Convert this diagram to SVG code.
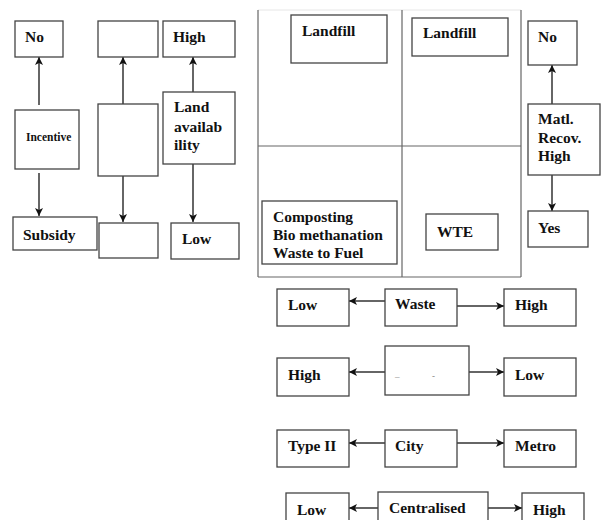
<svg xmlns="http://www.w3.org/2000/svg" width="601" height="520" viewBox="0 0 601 520">
  <defs>
    <marker id="ah" viewBox="0 0 10 10" refX="10" refY="5" markerWidth="8" markerHeight="8" markerUnits="userSpaceOnUse" orient="auto">
      <path d="M0,0 L10,5 L0,10 L2.5,5 Z" fill="#111"/>
    </marker>
  </defs>
  <style>
    rect { fill: #fff; stroke: #444; stroke-width: 1.3; }
    text { font-family: "Liberation Serif", "Times New Roman", serif; font-weight: bold; font-size: 15.5px; fill: #111; }
    .small { font-size: 11.5px; }
    .dash { font-size: 9px; font-weight: normal; fill: #777; }
    .frame { stroke: #666; stroke-width: 1.2; fill: none; }
    .faint { stroke: #e6e6e6; stroke-width: 1; fill: none; }
    .conn line { stroke: #333; stroke-width: 1.5; marker-end: url(#ah); }
  </style>
  <rect width="601" height="520" style="fill:#fff;stroke:none"/>

  <!-- quadrant frame -->
  <g id="quadrant">
    <line class="faint" x1="258" y1="10" x2="521" y2="10"/>
    <line class="frame" x1="258" y1="10" x2="258" y2="277"/>
    <line class="frame" x1="402" y1="10" x2="402" y2="277"/>
    <line class="frame" x1="521" y1="10" x2="521" y2="277"/>
    <line class="frame" x1="258" y1="146" x2="521" y2="146"/>
    <line class="frame" x1="258" y1="277" x2="521" y2="277"/>
  </g>

  <!-- connectors -->
  <g class="conn" id="connectors">
    <line x1="39" y1="105" x2="39" y2="57"/>
    <line x1="39" y1="173" x2="39" y2="216"/>
    <line x1="123" y1="104" x2="123" y2="57"/>
    <line x1="123" y1="176" x2="123" y2="222"/>
    <line x1="193" y1="92" x2="193" y2="57"/>
    <line x1="193" y1="164" x2="193" y2="222"/>
    <line x1="552" y1="104" x2="552" y2="65"/>
    <line x1="552" y1="175" x2="552" y2="211"/>
    <line x1="385" y1="301" x2="349" y2="301"/>
    <line x1="457" y1="306" x2="504" y2="306"/>
    <line x1="385" y1="372" x2="349" y2="372"/>
    <line x1="469" y1="372" x2="504" y2="372"/>
    <line x1="385" y1="443" x2="349" y2="443"/>
    <line x1="457" y1="443" x2="504" y2="443"/>
    <line x1="378" y1="508" x2="349" y2="508"/>
    <line x1="488" y1="508" x2="522" y2="508"/>
  </g>

  <!-- left column: incentive -->
  <g id="no-left"><rect x="15" y="21" width="48" height="36"/><text x="25" y="42">No</text></g>
  <g id="incentive"><rect x="15" y="110" width="64" height="59"/><text class="small" x="26" y="141">Incentive</text></g>
  <g id="subsidy"><rect x="13" y="217" width="84" height="33"/><text x="23" y="240">Subsidy</text></g>

  <!-- middle column: unlabelled -->
  <g id="blank-top"><rect x="98" y="21" width="60" height="36"/></g>
  <g id="blank-mid"><rect x="98" y="104" width="60" height="72"/></g>
  <g id="blank-bottom"><rect x="99" y="223" width="59" height="35"/></g>

  <!-- land availability -->
  <g id="high-land"><rect x="163" y="21" width="72" height="36"/><text x="173" y="42">High</text></g>
  <g id="land"><rect x="163" y="92" width="72" height="72"/>
    <text x="174" y="112">Land</text><text x="174" y="132">availab</text><text x="174" y="150">ility</text></g>
  <g id="low-land"><rect x="171" y="223" width="68" height="36"/><text x="182" y="244">Low</text></g>

  <!-- quadrant contents -->
  <g id="landfill-1"><rect x="291" y="15" width="96" height="48"/><text x="302" y="36">Landfill</text></g>
  <g id="landfill-2"><rect x="412" y="18" width="96" height="38"/><text x="423" y="38">Landfill</text></g>
  <g id="composting"><rect x="262" y="201" width="135" height="63"/>
    <text x="273" y="222">Composting</text><text x="273" y="240">Bio methanation</text><text x="273" y="258">Waste to Fuel</text></g>
  <g id="wte"><rect x="426" y="214" width="72" height="36"/><text x="437" y="237">WTE</text></g>

  <!-- material recovery -->
  <g id="no-right"><rect x="528" y="21" width="49" height="44"/><text x="538" y="42">No</text></g>
  <g id="matl"><rect x="528" y="104" width="72" height="71"/>
    <text x="538" y="124">Matl.</text><text x="538" y="143">Recov.</text><text x="538" y="161">High</text></g>
  <g id="yes"><rect x="528" y="211" width="60" height="36"/><text x="538" y="233">Yes</text></g>

  <!-- waste row -->
  <g id="waste-low"><rect x="277" y="289" width="72" height="37"/><text x="288" y="310">Low</text></g>
  <g id="waste"><rect x="385" y="289" width="72" height="37"/><text x="395" y="309">Waste</text></g>
  <g id="waste-high"><rect x="504" y="289" width="72" height="37"/><text x="515" y="310">High</text></g>

  <!-- second row -->
  <g id="row2-high"><rect x="277" y="358" width="72" height="38"/><text x="288" y="380">High</text></g>
  <g id="row2-mid"><rect x="385" y="346" width="84" height="49"/>
    <text class="dash" x="395" y="379">–</text><text class="dash" x="432" y="379">-</text></g>
  <g id="row2-low"><rect x="504" y="358" width="72" height="38"/><text x="515" y="380">Low</text></g>

  <!-- city row -->
  <g id="type2"><rect x="277" y="430" width="72" height="37"/><text x="288" y="451">Type II</text></g>
  <g id="city"><rect x="385" y="430" width="72" height="37"/><text x="395" y="451">City</text></g>
  <g id="metro"><rect x="504" y="430" width="72" height="37"/><text x="515" y="451">Metro</text></g>

  <!-- centralised row -->
  <g id="cent-low"><rect x="286" y="493" width="63" height="40"/><text x="297" y="515">Low</text></g>
  <g id="centralised"><rect x="378" y="492" width="110" height="40"/><text x="389" y="513">Centralised</text></g>
  <g id="cent-high"><rect x="522" y="493" width="62" height="40"/><text x="533" y="515">High</text></g>
</svg>
